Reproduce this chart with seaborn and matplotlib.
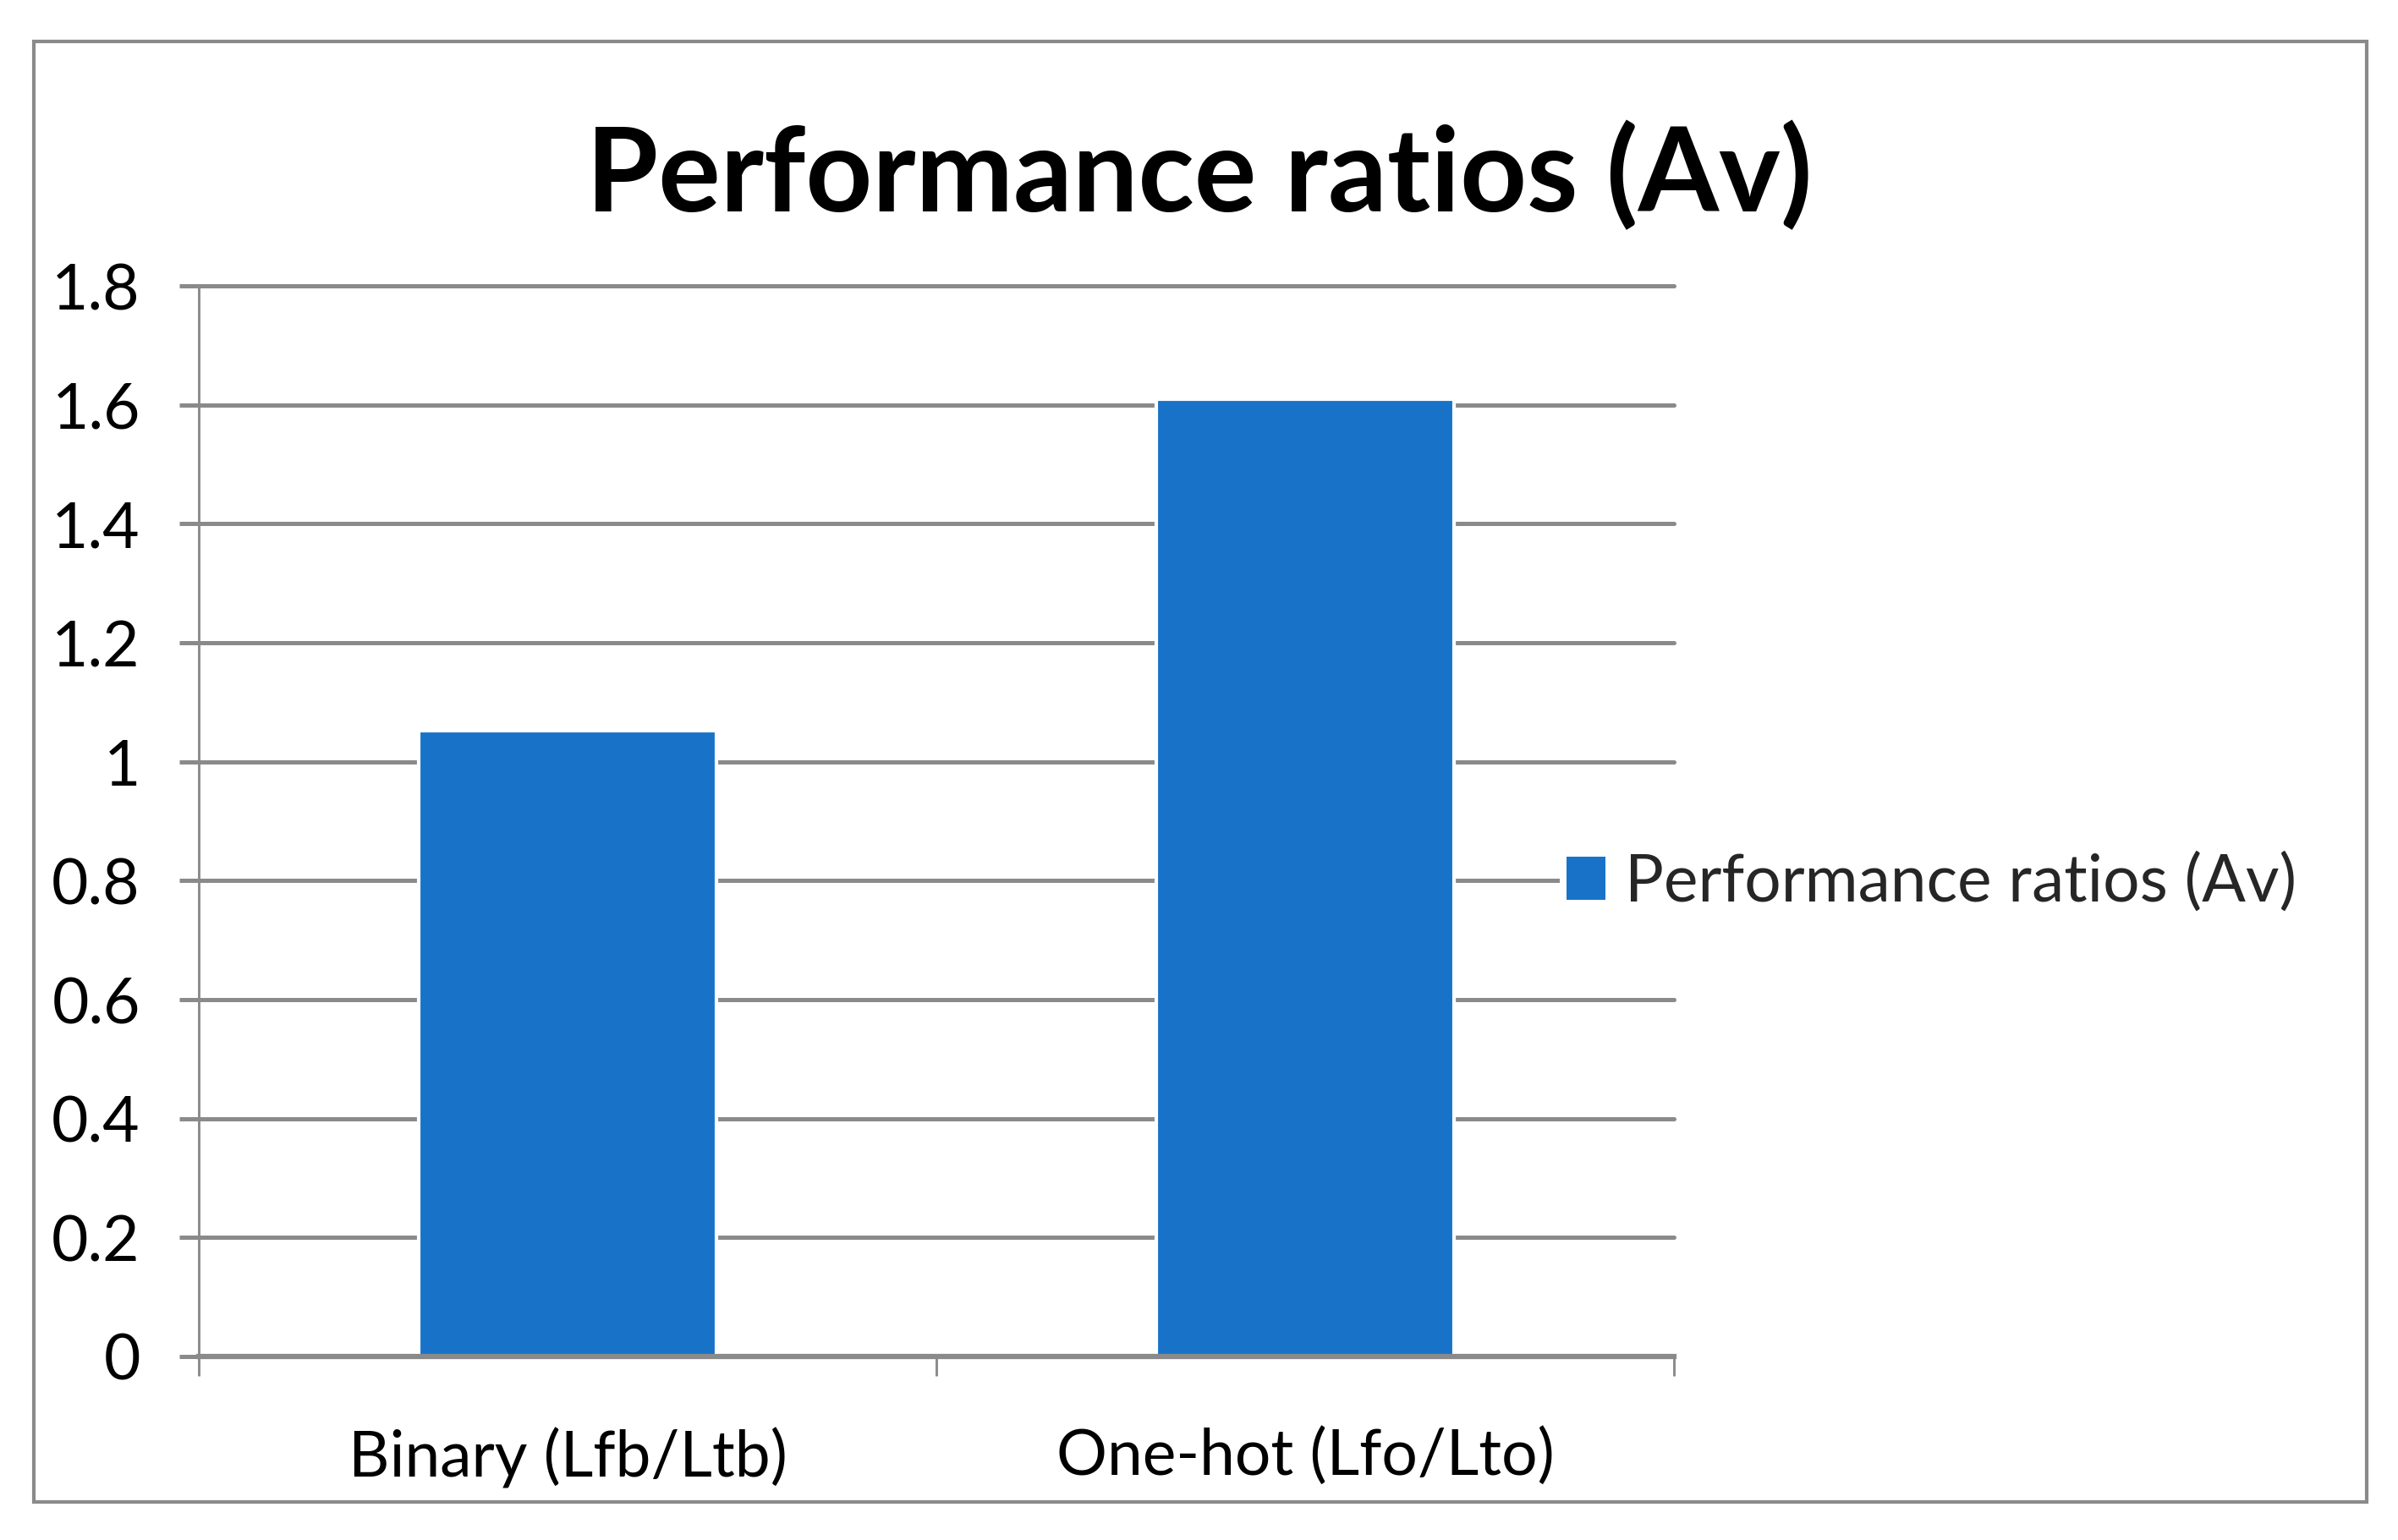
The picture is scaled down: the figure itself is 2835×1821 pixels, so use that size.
import matplotlib
matplotlib.use("Agg")
import matplotlib.pyplot as plt
import seaborn as sns
import pandas as pd
from matplotlib.patches import Patch, Rectangle
from matplotlib.ticker import FuncFormatter, FixedLocator

categories = ["Binary (Lfb/Ltb)", "One-hot (Lfo/Lto)"]
values = [1.052, 1.61]
series_name = "Performance ratios (Av)"
title = "Performance ratios (Av)"
yticks = [0, 0.2, 0.4, 0.6, 0.8, 1.0, 1.2, 1.4, 1.6, 1.8]

sns.set_theme(style="white")
plt.rcParams['font.family'] = ['Lato', 'DejaVu Sans']

bar_color = "#1873C8"
grid_color = "#8A8A8A"

fig = plt.figure(figsize=(9.45, 6.07), dpi=300)
fig.patch.set_facecolor("white")
ax = fig.add_axes([0.0829, 0.1192, 0.698 - 0.0829, 0.8143 - 0.1192])

df = pd.DataFrame({"cat": categories, "val": values})
sns.barplot(data=df, x="cat", y="val", color=bar_color, width=0.404, ax=ax,
            saturation=1, zorder=3)

ax.set_xlim(-0.5, 1.5)
ax.set_ylim(0, 1.8)
ax.yaxis.set_major_locator(FixedLocator(yticks))
ax.yaxis.set_major_formatter(FuncFormatter(lambda v, p: "%g" % v))
ax.set_xlabel("")
ax.set_ylabel("")

for y in yticks[1:]:
    ax.axhline(y, color=grid_color, lw=1.2, zorder=1, clip_on=False)

for s in ["top", "right"]:
    ax.spines[s].set_visible(False)
ax.spines["left"].set_color(grid_color)
ax.spines["left"].set_linewidth(0.7)
ax.spines["bottom"].set_color(grid_color)
ax.spines["bottom"].set_linewidth(1.5)
ax.spines["bottom"].set_zorder(4)

ax.tick_params(axis="y", which="major", left=True, length=5.6, width=1.2,
               color=grid_color, labelsize=18, pad=11, labelcolor="black")
ax.tick_params(axis="x", which="major", bottom=False, labelsize=18, pad=14,
               labelcolor="black")
ax.set_xticks([-0.5, 0.5, 1.5], minor=True)
ax.tick_params(axis="x", which="minor", bottom=True, length=5.6, width=0.7,
               color=grid_color)

fig.text(0.5, 0.886, title, ha="center", va="center", fontsize=33,
         fontweight="bold", color="black")

leg = fig.legend(handles=[Patch(facecolor=bar_color, edgecolor="none", label=series_name)],
                 loc="center left", bbox_to_anchor=(0.6505, 0.427),
                 bbox_transform=fig.transFigure, fontsize=18.4, frameon=True,
                 facecolor="white", edgecolor="none", framealpha=1,
                 handlelength=0.6, handleheight=0.65, handletextpad=0.3,
                 borderpad=0.1, borderaxespad=0)
leg.get_frame().set_linewidth(0)

fig.add_artist(Rectangle((0.014, 0.0248), 0.987 - 0.014, 0.973 - 0.0248,
                         transform=fig.transFigure, fill=False,
                         edgecolor=grid_color, lw=1.0))

fig.savefig("out.png", dpi=300, facecolor="white")
